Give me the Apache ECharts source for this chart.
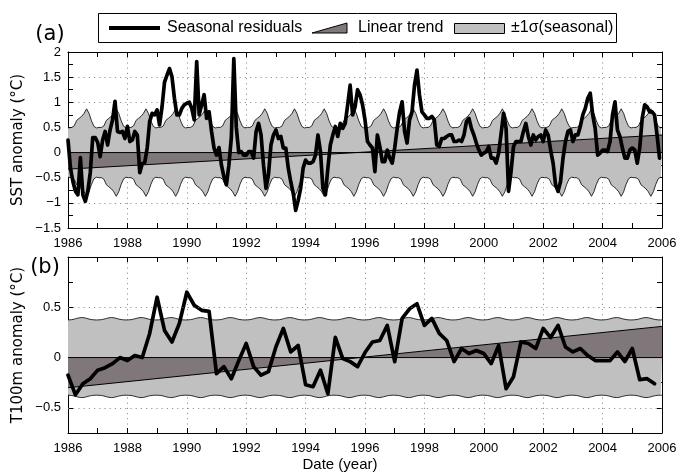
<!DOCTYPE html>
<html>
<head>
<meta charset="utf-8">
<script src="https://cdn.jsdelivr.net/npm/echarts@6/dist/echarts.min.js"></script>
<style>
  html, body { margin: 0; padding: 0; background: #fff; }
  #chart { width: 680px; height: 473px; }
</style>
</head>
<body>
<div id="chart"></div>
<script>
// ---- data ---------------------------------------------------------------
const startYear = 1986;
const endYear = 2006;

// SST seasonal residuals, monthly from Jan 1986 (°C)
const sstResiduals = [
  0.25, -0.31, -0.58, -0.77, -0.84, -0.10, -0.84, -0.97, -0.77, -0.40, 0.30, 0.30,
  0.20, -0.08, 0.25, 0.42, 0.15, 0.45, 0.65, 1.02, 0.42, 0.40, 0.42, 0.28,
  0.52, 0.22, 0.25, 0.42, 0.35, -0.40, -0.22, -0.20, 0.09, 0.62, 0.78, 0.75,
  0.85, 0.55, 0.91, 1.40, 1.54, 1.67, 1.51, 1.08, 0.75, 0.75, 0.88, 0.95,
  0.98, 1.00, 0.88, 0.65, 1.81, 0.75, 0.95, 1.15, 0.68, 0.81, 0.42, 0.09,
  -0.05, 0.10, -0.25, -0.48, -0.64, -0.25, 0.30, 1.87, 0.50, 0.00, 0.02, -0.05,
  -0.05, 0.02, 0.02, -0.11, 0.42, 0.58, 0.35, -0.25, -0.71, -0.44, 0.15, 0.35,
  0.45, 0.28, 0.32, 0.09, 0.09, -0.31, -0.58, -0.81, -1.15, -0.95, -0.71, -0.31,
  -0.15, -0.21, -0.21, -0.18, -0.05, 0.35, 0.02, -0.71, -0.84, -0.31, 0.15, 0.35,
  0.52, 0.32, 0.58, 0.48, 0.58, 0.95, 1.34, 0.75, 0.91, 1.25, 1.15, 0.95,
  0.65, 0.22, 0.15, 0.09, -0.38, 0.35, 0.12, -0.18, -0.18, 0.05, -0.11, -0.21,
  0.09, 0.48, 0.81, 1.01, 0.42, 0.19, 0.65, 0.81, 1.34, 1.64, 1.15, 0.81,
  0.75, 0.68, 0.68, 0.72, 0.65, 0.15, 0.12, 0.28, 0.28, 0.32, 0.35, 0.35,
  0.22, 0.22, 0.25, 0.22, 0.35, 0.62, 0.68, 0.48, 0.35, 0.19, 0.05, -0.05,
  -0.01, 0.02, 0.12, -0.11, -0.11, -0.21, -0.01, 0.38, 0.78, 0.48, -0.77, -0.38,
  0.12, 0.22, 0.22, 0.22, 0.42, 0.58, 0.32, 0.15, 0.35, 0.25, 0.32, 0.35,
  0.22, 0.45, 0.35, 0.05, -0.21, -0.64, -0.77, -0.58, -0.11, 0.22, 0.42, 0.45,
  0.22, 0.35, 0.35, 0.52, 0.75, 0.88, 1.08, 1.18, 0.75, 0.48, -0.05, -0.01,
  0.05, 0.05, 0.02, 0.22, 0.75, 1.01, 0.45, 0.32, 0.09, -0.11, -0.11, 0.05,
  0.09, 0.05, -0.21, 0.09, 0.68, 0.95, 0.91, 0.81, 0.81, 0.75, 0.35, -0.11
];
// SST seasonal standard deviation, Jan..Dec (°C)
const sstSigma = [0.50, 0.50, 0.53, 0.64, 0.68, 0.72, 0.78, 0.87, 0.78, 0.63, 0.52, 0.49];
// SST linear trend at start and end of record (°C)
const sstTrend = [-0.33, 0.35];

// T100m residuals, quarterly from 1986.0 (°C)
const t100Residuals = [
  -0.175, -0.37, -0.26, -0.21, -0.125, -0.10, -0.06, 0.00, -0.03, 0.02,
  0.00, 0.24, 0.60, 0.27, 0.155, 0.34, 0.65, 0.52, 0.47, 0.46,
  -0.16, -0.09, -0.21, -0.03, 0.14, -0.09, -0.175, -0.14, 0.105, 0.29,
  0.056, 0.12, -0.27, -0.29, -0.125, -0.36, 0.20, -0.01, -0.04, -0.09,
  0.05, 0.155, 0.17, 0.32, -0.04, 0.39, 0.485, 0.535, 0.32, 0.39,
  0.24, 0.17, -0.04, 0.09, 0.04, 0.07, 0.04, -0.06, 0.12, -0.31,
  -0.19, 0.155, 0.14, 0.09, 0.29, 0.20, 0.32, 0.105, 0.056, 0.09,
  0.02, -0.03, -0.03, -0.03, 0.056, -0.04, 0.09, -0.22, -0.21, -0.26
];
// T100m seasonal standard deviation, Jan..Dec (°C)
const t100Sigma = [0.375, 0.377, 0.382, 0.389, 0.395, 0.398, 0.396, 0.390, 0.383, 0.378, 0.375, 0.374];
// T100m linear trend at start and end of record (°C)
const t100Trend = [-0.30, 0.31];

// ---- helpers -------------------------------------------------------------
function seriesPoints(values, perYear) {
  return values.map((v, i) => [startYear + i / perYear, v]);
}
function bandPoints(sigma, sign) {
  const pts = [[startYear, sign * sigma[11]]];
  for (let y = startYear; y < endYear; y++) {
    for (let m = 0; m < 12; m++) pts.push([y + (m + 0.5) / 12, sign * sigma[m]]);
  }
  pts.push([endYear, sign * sigma[0]]);
  return pts;
}
function trendPoints(tr) { return [[startYear, tr[0]], [endYear, tr[1]]]; }
const zeroPoints = [[startYear, 0], [endYear, 0]];
const fmt = v => (v < 0 ? '\u2212' : '') + String(Math.abs(v));

// ---- styles --------------------------------------------------------------
const BAND = '#c0c0c0';
const TREND = '#7f777a';
const FONT = 'Liberation Sans, Arial, sans-serif';
const dotted = { color: '#777', width: 0.8, type: [1.2, 4] };
const tick = { show: true, inside: true, length: 5, lineStyle: { color: '#000', width: 1 } };
const minor = { show: true, splitNumber: 2, length: 5, lineStyle: { color: '#000', width: 1 } };
const axLine = { show: true, onZero: false, lineStyle: { color: '#000', width: 1 } };
const lbl = { color: '#000', fontFamily: FONT, fontSize: 13 };

function xAxes(grid) {
  return [
    { type: 'value', gridIndex: grid, position: 'bottom', min: startYear, max: endYear, interval: 2,
      axisLine: axLine, axisTick: tick, minorTick: minor,
      axisLabel: Object.assign({ margin: 9 }, lbl, { formatter: v => String(v) }),
      splitLine: { show: true, lineStyle: dotted } },
    { type: 'value', gridIndex: grid, position: 'top', min: startYear, max: endYear, interval: 2,
      axisLine: axLine, axisTick: tick, minorTick: minor,
      axisLabel: { show: false }, splitLine: { show: false } }
  ];
}

const grids = [
  { left: 68, top: 52, width: 594, height: 176 },
  { left: 68, top: 257, width: 594, height: 176 }
];

const option = {
  animation: false,
  backgroundColor: '#fff',
  grid: grids,
  xAxis: [...xAxes(0), ...xAxes(1)],
  yAxis: [
    { type: 'value', gridIndex: 0, position: 'left', min: -1.5, max: 2, interval: 0.5,
      axisLine: axLine, axisTick: tick, minorTick: minor,
      axisLabel: Object.assign({ margin: 7 }, lbl, { formatter: fmt }),
      splitLine: { show: true, lineStyle: dotted } },
    { type: 'value', gridIndex: 0, position: 'right', min: -1.5, max: 2, interval: 0.5,
      axisLine: axLine, axisTick: tick, minorTick: minor,
      axisLabel: { show: false }, splitLine: { show: false } },
    { type: 'value', gridIndex: 1, position: 'left', min: -0.75, max: 1, interval: 0.25,
      axisLine: axLine, axisTick: tick,
      axisLabel: Object.assign({ margin: 7 }, lbl, {
        formatter: v => (v === 0 || Math.abs(v) === 0.5) ? fmt(v) : '' }),
      splitLine: { show: false } },
    { type: 'value', gridIndex: 1, position: 'right', min: -0.75, max: 1, interval: 0.25,
      axisLine: axLine, axisTick: tick,
      axisLabel: { show: false }, splitLine: { show: false } }
  ],
  series: []
};

function addPanel(grid, residuals, perYear, sigma, trend, gridLevels) {
  const xi = grid * 2, yi = grid * 2;
  const base = { type: 'line', xAxisIndex: xi, yAxisIndex: yi, showSymbol: false, silent: true };
  [1, -1].forEach(sign => {
    option.series.push(Object.assign({}, base, {
      z: 1, data: bandPoints(sigma, sign),
      lineStyle: { color: '#000', width: 0.8 },
      areaStyle: { color: BAND, opacity: 1 },
      markLine: gridLevels && sign === 1 ? {
        silent: true, symbol: 'none', label: { show: false },
        lineStyle: dotted, data: gridLevels.map(v => ({ yAxis: v }))
      } : undefined
    }));
  });
  option.series.push(Object.assign({}, base, {
    z: 2, data: trendPoints(trend),
    lineStyle: { color: '#000', width: 1 },
    areaStyle: { color: TREND, opacity: 1 }
  }));
  option.series.push(Object.assign({}, base, {
    z: 3, data: zeroPoints, lineStyle: { color: '#000', width: 1 }
  }));
  option.series.push(Object.assign({}, base, {
    z: 4, data: seriesPoints(residuals, perYear),
    lineStyle: { color: '#000', width: 3.7, join: 'round', cap: 'round' }
  }));
}
addPanel(0, sstResiduals, 12, sstSigma, sstTrend, null);
addPanel(1, t100Residuals, 4, t100Sigma, t100Trend, [-0.5, 0.5]);

// legend box, panel tags and axis titles
const TITLE_FONT = 'DejaVu Sans, sans-serif';
option.graphic = [
  { type: 'rect', shape: { x: 98.5, y: 13.5, width: 518, height: 29 },
    style: { fill: '#fff', stroke: '#000', lineWidth: 1 }, z: 10 },
  { type: 'line', shape: { x1: 109, y1: 28, x2: 160, y2: 28 },
    style: { stroke: '#000', lineWidth: 4 }, z: 11 },
  { type: 'text', x: 167, y: 28, z: 11,
    style: { text: 'Seasonal residuals', font: '16px ' + FONT, fill: '#000', verticalAlign: 'middle' } },
  { type: 'polygon', shape: { points: [[312, 33], [347, 23], [347, 33]] },
    style: { fill: TREND, stroke: '#000', lineWidth: 1 }, z: 11 },
  { type: 'text', x: 358, y: 28, z: 11,
    style: { text: 'Linear trend', font: '16px ' + FONT, fill: '#000', verticalAlign: 'middle' } },
  { type: 'rect', shape: { x: 454.5, y: 23.5, width: 50, height: 10 },
    style: { fill: BAND, stroke: '#000', lineWidth: 1 }, z: 11 },
  { type: 'text', x: 511, y: 28, z: 11,
    style: { text: '\u00b11\u03c3(seasonal)', font: '16px ' + FONT, fill: '#000', verticalAlign: 'middle' } },
  { type: 'text', x: 50, y: 35, z: 11,
    style: { text: '(a)', font: '21px ' + TITLE_FONT, fill: '#000', align: 'center', verticalAlign: 'middle' } },
  { type: 'text', x: 45, y: 268, z: 11,
    style: { text: '(b)', font: '21px ' + TITLE_FONT, fill: '#000', align: 'center', verticalAlign: 'middle' } },
  { type: 'text', x: 18, y: 140, rotation: Math.PI / 2, z: 11,
    style: { text: 'SST anomaly (\u00b0C)', font: '15px ' + TITLE_FONT, fill: '#000', align: 'center', verticalAlign: 'middle' } },
  { type: 'text', x: 18, y: 345, rotation: Math.PI / 2, z: 11,
    style: { text: 'T100m anomaly (\u00b0C)', font: '15px ' + TITLE_FONT, fill: '#000', align: 'center', verticalAlign: 'middle' } },
  { type: 'text', x: 340, y: 465, z: 11,
    style: { text: 'Date (year)', font: '15px ' + FONT, fill: '#000', align: 'center', verticalAlign: 'middle' } }
];

const chart = echarts.init(document.getElementById('chart'), null, { renderer: 'canvas' });
chart.setOption(option);
</script>
</body>
</html>
